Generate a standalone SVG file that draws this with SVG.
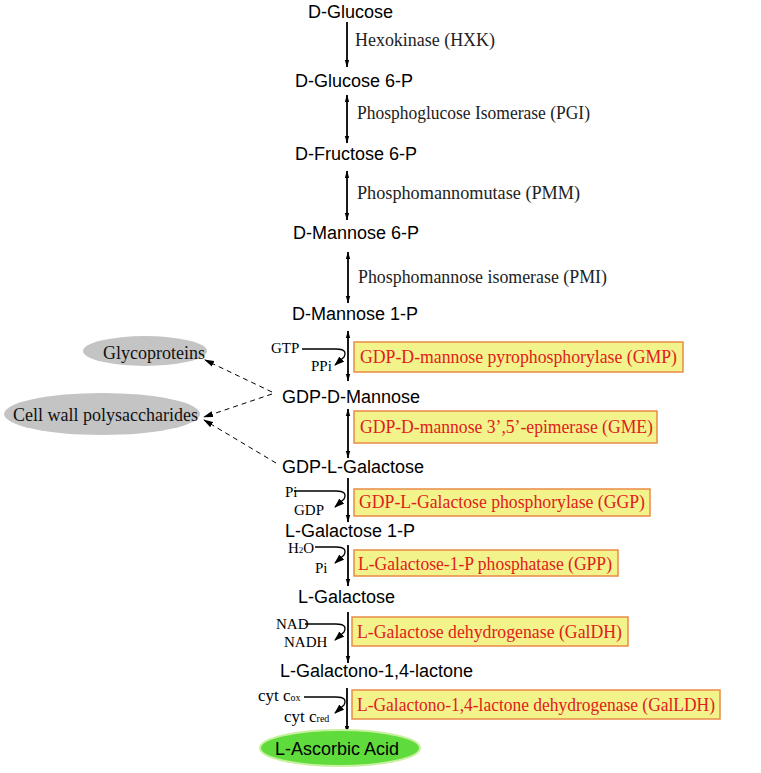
<svg xmlns="http://www.w3.org/2000/svg" width="761" height="773" viewBox="0 0 761 773">
<style>
.cmp{font-family:"Liberation Sans",Arial,sans-serif;font-size:18px;fill:#000}
.enz{font-family:"Liberation Serif","Times New Roman",serif;font-size:18px;fill:#222}
.red{font-family:"Liberation Serif","Times New Roman",serif;font-size:18px;fill:#e0201a}
.sm{font-family:"Liberation Serif","Times New Roman",serif;font-size:15px;fill:#000}
.cyt{font-family:"Liberation Serif","Times New Roman",serif;font-size:17px;fill:#000}
.box{fill:#f3f38c;stroke:#ea8a45;stroke-width:1.5}
.ln{fill:none;stroke:#000;stroke-width:1.8}
.side{fill:none;stroke:#000;stroke-width:1.3}
.dash{fill:none;stroke:#000;stroke-width:1;stroke-dasharray:5 4}
.gray{fill:#c4c4c4}
.gtx{font-family:"Liberation Serif","Times New Roman",serif;font-size:18px;fill:#111}
</style>
<defs>
<marker id="ah" markerUnits="userSpaceOnUse" markerWidth="8" markerHeight="14" refX="13" refY="4" orient="auto-start-reverse" viewBox="0 0 14 8"><path d="M0,0 L14,4 L0,8 Z" fill="#000"/></marker>
<marker id="sa" markerUnits="userSpaceOnUse" markerWidth="10" markerHeight="8" refX="9" refY="3.5" orient="auto" viewBox="0 0 10 7"><path d="M0,0 L10,3.5 L0,7 Z" fill="#000"/></marker>
<marker id="da" markerUnits="userSpaceOnUse" markerWidth="10" markerHeight="7" refX="9" refY="3" orient="auto" viewBox="0 0 10 6"><path d="M0,0 L10,3 L0,6 Z" fill="#000"/></marker>
</defs>
<rect width="761" height="773" fill="#fff"/>

<g id="connectors">
<line class="ln" x1="347" y1="22" x2="347" y2="67" marker-end="url(#ah)"/>
<line class="ln" x1="347" y1="95" x2="347" y2="143" marker-start="url(#ah)" marker-end="url(#ah)"/>
<line class="ln" x1="347" y1="171" x2="347" y2="220" marker-start="url(#ah)" marker-end="url(#ah)"/>
<line class="ln" x1="348" y1="252" x2="348" y2="303" marker-start="url(#ah)" marker-end="url(#ah)"/>
<line class="ln" x1="348" y1="331" x2="348" y2="381" marker-start="url(#ah)" marker-end="url(#ah)"/>
<line class="ln" x1="348" y1="409" x2="348" y2="458" marker-start="url(#ah)" marker-end="url(#ah)"/>
<line class="ln" x1="348" y1="478" x2="348" y2="522" marker-end="url(#ah)"/>
<line class="ln" x1="348" y1="545" x2="348" y2="586" marker-end="url(#ah)"/>
<line class="ln" x1="348" y1="612" x2="348" y2="663" marker-end="url(#ah)"/>
<line class="ln" x1="347" y1="688" x2="347" y2="733" marker-end="url(#ah)"/>

<path class="side" d="M302 349 H336 Q348 349 344 357 L335 365" marker-end="url(#sa)"/>
<path class="side" d="M294 491 H336 Q348 491 344 499 L335 507" marker-end="url(#sa)"/>
<path class="side" d="M315 547 H336 Q348 547 344 555 L335 563" marker-end="url(#sa)"/>
<path class="side" d="M305 624 H336 Q348 624 344 632 L335 640" marker-end="url(#sa)"/>
<path class="side" d="M304 697 H336 Q348 697 344 705 L335 713" marker-end="url(#sa)"/>

<line class="dash" x1="272" y1="392" x2="205" y2="360" marker-end="url(#da)"/>
<line class="dash" x1="272" y1="394" x2="204" y2="417" marker-end="url(#da)"/>
<line class="dash" x1="276" y1="463" x2="204" y2="420" marker-end="url(#da)"/>
</g>

<g id="n-glucose"><text class="cmp" x="308" y="18">D-Glucose</text></g>
<g id="e-hxk"><text class="enz" x="355" y="46" textLength="140" lengthAdjust="spacingAndGlyphs">Hexokinase (HXK)</text></g>
<g id="n-glucose6p"><text class="cmp" x="295" y="87">D-Glucose 6-P</text></g>
<g id="e-pgi"><text class="enz" x="357" y="119" textLength="233" lengthAdjust="spacingAndGlyphs">Phosphoglucose Isomerase (PGI)</text></g>
<g id="n-fructose6p"><text class="cmp" x="295" y="160">D-Fructose 6-P</text></g>
<g id="e-pmm"><text class="enz" x="357" y="199" textLength="223" lengthAdjust="spacingAndGlyphs">Phosphomannomutase (PMM)</text></g>
<g id="n-mannose6p"><text class="cmp" x="293" y="239">D-Mannose 6-P</text></g>
<g id="e-pmi"><text class="enz" x="358" y="283" textLength="249" lengthAdjust="spacingAndGlyphs">Phosphomannose isomerase (PMI)</text></g>
<g id="n-mannose1p"><text class="cmp" x="292" y="320">D-Mannose 1-P</text></g>

<g id="r-gmp"><text class="sm" x="271" y="353">GTP</text><text class="sm" x="311" y="371">PPi</text></g>
<g id="e-gmp"><rect class="box" x="354" y="342" width="329" height="30"/><text class="red" x="360" y="363" textLength="317" lengthAdjust="spacingAndGlyphs">GDP-D-mannose pyrophosphorylase (GMP)</text></g>
<g id="n-gdpman"><text class="cmp" x="282" y="403">GDP-D-Mannose</text></g>
<g id="n-glyco"><ellipse class="gray" cx="145" cy="351" rx="62" ry="15"/><text class="gtx" x="103" y="359">Glycoproteins</text></g>
<g id="n-cellwall"><ellipse class="gray" cx="102" cy="414" rx="98" ry="21"/><text class="gtx" x="13" y="421">Cell wall polysaccharides</text></g>
<g id="e-gme"><rect class="box" x="354" y="411" width="303" height="32"/><text class="red" x="360" y="433" textLength="293" lengthAdjust="spacingAndGlyphs">GDP-D-mannose 3’,5’-epimerase (GME)</text></g>
<g id="n-gdpgal"><text class="cmp" x="282" y="473">GDP-L-Galactose</text></g>

<g id="r-ggp"><text class="sm" x="285" y="497">Pi</text><text class="sm" x="294" y="515">GDP</text></g>
<g id="e-ggp"><rect class="box" x="354" y="489" width="296" height="27"/><text class="red" x="359" y="508" textLength="286" lengthAdjust="spacingAndGlyphs">GDP-L-Galactose phosphorylase (GGP)</text></g>
<g id="n-gal1p"><text class="cmp" x="285" y="537">L-Galactose 1-P</text></g>

<g id="r-gpp"><text class="sm" x="288" y="553">H<tspan font-size="9">2</tspan>O</text><text class="sm" x="315" y="573">Pi</text></g>
<g id="e-gpp"><rect class="box" x="354" y="550" width="264" height="26"/><text class="red" x="358" y="570" textLength="254" lengthAdjust="spacingAndGlyphs">L-Galactose-1-P phosphatase (GPP)</text></g>
<g id="n-gal"><text class="cmp" x="298" y="603">L-Galactose</text></g>

<g id="r-galdh"><text class="sm" x="276" y="629">NAD</text><text class="sm" x="284" y="647">NADH</text></g>
<g id="e-galdh"><rect class="box" x="352" y="617" width="276" height="29"/><text class="red" x="357" y="638" textLength="265" lengthAdjust="spacingAndGlyphs">L-Galactose dehydrogenase (GalDH)</text></g>
<g id="n-galactono"><text class="cmp" x="280" y="677">L-Galactono-1,4-lactone</text></g>

<g id="r-galldh"><text class="cyt" x="258" y="701">cyt c<tspan font-size="10">ox</tspan></text><text class="cyt" x="284" y="722">cyt c<tspan font-size="10">red</tspan></text></g>
<g id="e-galldh"><rect class="box" x="352" y="690" width="368" height="29"/><text class="red" x="357" y="711" textLength="358" lengthAdjust="spacingAndGlyphs">L-Galactono-1,4-lactone dehydrogenase (GalLDH)</text></g>

<g id="n-asa"><ellipse cx="340" cy="748" rx="80" ry="18" fill="#5fdc3c" stroke="#c8f0a0" stroke-width="2"/><text class="cmp" x="275" y="755">L-Ascorbic Acid</text></g>
</svg>
